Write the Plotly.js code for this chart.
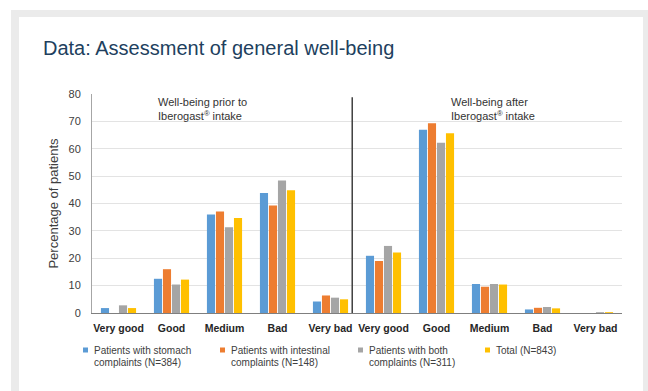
<!DOCTYPE html>
<html>
<head>
<meta charset="utf-8">
<script src="https://cdn.plot.ly/plotly-3.0.1.min.js"></script>
<style>
  html, body { margin: 0; padding: 0; background: #ffffff; }
  #frame { position: absolute; left: 11px; top: 10px; width: 637px; height: 381px; background: #ebebeb; }
  #inner { position: absolute; left: 19px; top: 17px; width: 624px; height: 374px; background: #ffffff; }
  #chart { position: absolute; left: 0; top: 0; width: 648px; height: 391px; }
</style>
</head>
<body>
<div id="frame"></div>
<div id="inner"></div>
<div id="chart"></div>
<script>
// ---- data ----
const categories = ["Very good", "Good", "Medium", "Bad", "Very bad"];
const periodLabels = ["Well-being prior to<br>Iberogast<sup>®</sup> intake", "Well-being after<br>Iberogast<sup>®</sup> intake"];
const seriesNames = [
  ["Patients with stomach", "complaints (N=384)"],
  ["Patients with intestinal", "complaints (N=148)"],
  ["Patients with both", "complaints (N=311)"],
  ["Total (N=843)"]
];
const stomachBefore    = [1.8, 12.5, 36.0, 43.8, 4.2];
const intestinalBefore = [0,   16.0, 37.1, 39.3, 6.4];
const bothBefore       = [2.8, 10.4, 31.3, 48.4, 5.6];
const totalBefore      = [1.8, 12.2, 34.7, 44.8, 5.0];
const stomachAfter     = [20.9, 66.9, 10.6, 1.3, 0];
const intestinalAfter  = [19.0, 69.3, 9.6, 1.9, 0];
const bothAfter        = [24.5, 62.2, 10.6, 2.2, 0.3];
const totalAfter       = [22.1, 65.7, 10.4, 1.7, 0.3];
const colors = ["#5b9bd5", "#ed7d31", "#a5a5a5", "#ffc000"];

// ---- build ----
const allCats = categories.concat(categories);
const xIdx = allCats.map((_, i) => i);
const seriesVals = [
  stomachBefore.concat(stomachAfter),
  intestinalBefore.concat(intestinalAfter),
  bothBefore.concat(bothAfter),
  totalBefore.concat(totalAfter)
];
const FONT = "'Liberation Sans', Arial, sans-serif";

const traces = seriesVals.map((vals, i) => ({
  type: "bar",
  x: xIdx,
  y: vals,
  name: seriesNames[i].join(" "),
  marker: { color: colors[i] },
  showlegend: false,
  hoverinfo: "y"
}));

const annotations = [];
// section labels
const sectionX = [0.70, 6.24];
periodLabels.forEach((t, i) => {
  annotations.push({
    xref: "x", yref: "y", x: sectionX[i], y: 80,
    xanchor: "left", yanchor: "top", align: "left",
    text: t, showarrow: false,
    font: { family: FONT, size: 11, color: "#333333" }
  });
});

// custom legend
const legendTextX = [92, 229, 367, 494];
const legendLineY = [350, 362];
const plotL = 92, plotW = 530, plotB = 313, plotH = 219;
const shapes = [];
seriesNames.forEach((lines, i) => {
  const px = (legendTextX[i] - plotL) / plotW;
  lines.forEach((ln, j) => {
    annotations.push({
      xref: "paper", yref: "paper",
      x: px, y: (plotB - legendLineY[j]) / plotH,
      xanchor: "left", yanchor: "middle", align: "left",
      text: ln, showarrow: false,
      font: { family: FONT, size: 10, color: "#404040" }
    });
  });
  shapes.push({
    type: "rect", xref: "paper", yref: "paper",
    xsizemode: "pixel", ysizemode: "pixel",
    xanchor: px, yanchor: (plotB - legendLineY[0]) / plotH,
    x0: -9, x1: -4, y0: -2.5, y1: 2.5,
    fillcolor: colors[i], line: { width: 0 }
  });
});
// divider between the two periods
shapes.push({
  type: "line", xref: "x", yref: "y",
  x0: 4.41, x1: 4.41, y0: 0, y1: 78.8,
  line: { color: "#404040", width: 1.5 }
});

const layout = {
  width: 648, height: 391,
  margin: { l: 92, r: 26, t: 94, b: 78 },
  paper_bgcolor: "rgba(0,0,0,0)",
  plot_bgcolor: "rgba(0,0,0,0)",
  barmode: "group",
  bargap: 0.32,
  bargroupgap: 0.1,
  font: { family: FONT, color: "#404040" },
  title: {
    text: "Data: Assessment of general well-being",
    xref: "container", yref: "container",
    x: 43 / 648, xanchor: "left",
    y: 1 - 48 / 391, yanchor: "middle",
    font: { family: FONT, size: 20, color: "#213f5e" }
  },
  xaxis: {
    range: [-0.5, 9.5],
    tickmode: "array", tickvals: xIdx, ticktext: allCats,
    tickfont: { family: FONT, size: 10.5, color: "#262626", weight: "bold" },
    showline: true, linecolor: "#7f7f7f", linewidth: 1,
    showgrid: false, zeroline: false,
    ticks: "", ticklabelstandoff: 5, fixedrange: true
  },
  yaxis: {
    range: [0, 80], dtick: 10,
    tickfont: { family: FONT, size: 11, color: "#404040" },
    showline: true, linecolor: "#a6a6a6", linewidth: 1,
    gridcolor: "#e3e3e3", gridwidth: 1,
    zeroline: false, ticks: "", ticklabelstandoff: 8,
    title: { text: "Percentage of patients", font: { family: FONT, size: 13, color: "#404040" }, standoff: 6 },
    fixedrange: true
  },
  annotations: annotations,
  shapes: shapes
};

Plotly.newPlot("chart", traces, layout, { displayModeBar: false, staticPlot: true });
</script>
</body>
</html>
